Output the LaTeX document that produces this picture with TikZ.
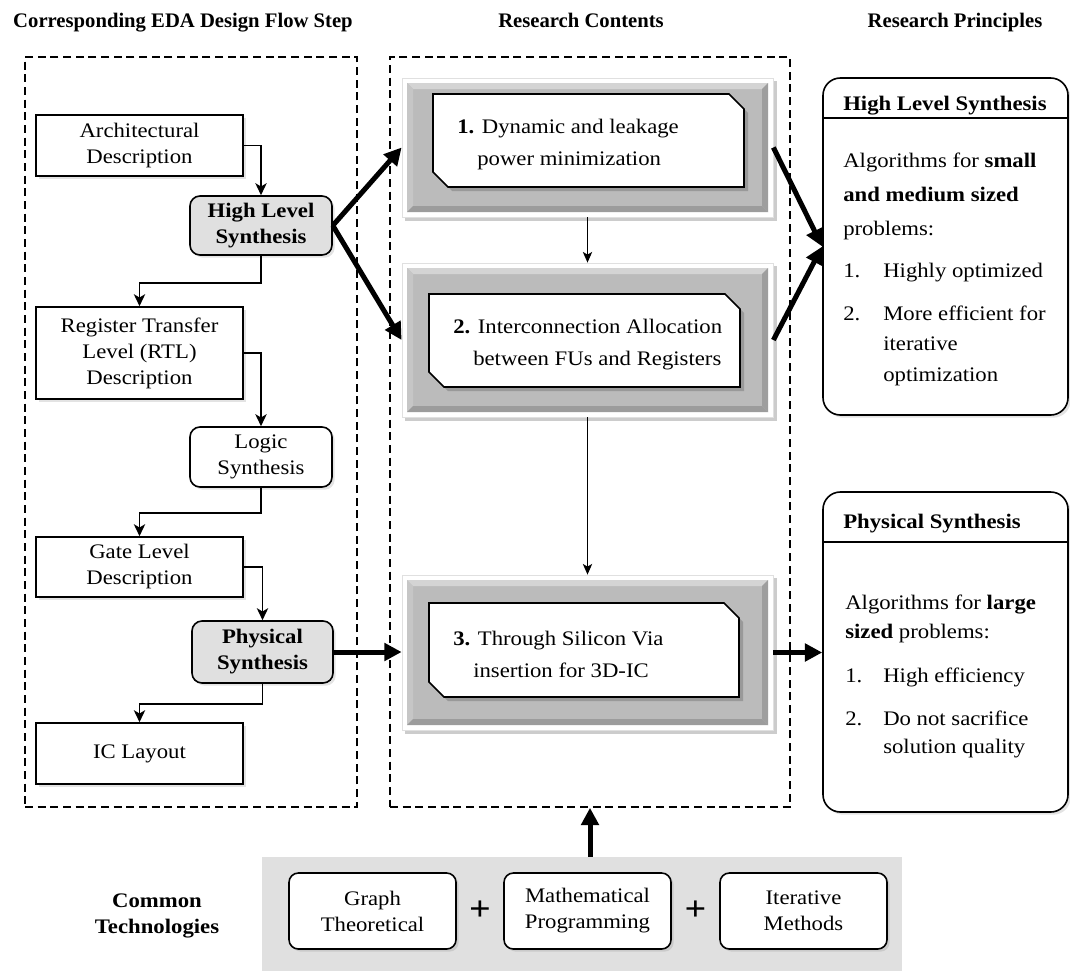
\documentclass[tikz,border=0pt]{standalone}
\usepackage{fontspec}
\setmainfont{Liberation Serif}[FakeStretch=1.1]
\newfontfamily\headfont{Liberation Serif}[FakeStretch=1.0]
\usetikzlibrary{arrows.meta,fit,shadows,calc}

\definecolor{panelgray}{HTML}{BBBBBB}
\definecolor{bevellight}{HTML}{D4D4D4}
\definecolor{bevelside}{HTML}{C6C6C6}
\definecolor{beveldark}{HTML}{9C9C9C}
\definecolor{stepgray}{HTML}{E0E0E0}

% a box node spanning the corners (#3,#4) and (#5,#6), centred text #7
\newcommand\boxnode[7]{%
  \node[#1, minimum width={(#5-#3)*0.75pt}, minimum height={(#6-#4)*0.75pt}]
    (#2) at ({(#3+#5)/2},{(#4+#6)/2}) {#7};}

% one research-content panel: white rim, bevelled grey plate, snipped white card
% #1 name, #2/#3 rim top/bottom, #4..#7 card left/top/right/bottom, #8 text
\newcommand\contentbox[8]{%
  \fill[black!20] (405,#2+3) rectangle (777,#3+4);
  \boxnode{fill=white, draw=black!12, line width=0.6pt}{#1}{402}{#2}{773}{#3}{}
  \fill[panelgray] (407,#2+5) rectangle (768,#3-5);
  \fill[bevellight] (407,#2+5) -- (768,#2+5) -- (762,#2+11) -- (413,#2+11) -- cycle;
  \fill[bevelside] (407,#2+5) -- (413,#2+11) -- (413,#3-11) -- (407,#3-5) -- cycle;
  \fill[beveldark] (407,#3-5) -- (413,#3-11) -- (762,#3-11) -- (768,#3-5) -- cycle;
  \fill[bevelside!80!black] (768,#2+5) -- (762,#2+11) -- (762,#3-11) -- (768,#3-5) -- cycle;
  \fill[black!40] (#4+4,#5+4) -- (#6-11,#5+4) -- (#6+4,#5+19) -- (#6+4,#7+4) -- (#4+19,#7+4) -- (#4+4,#7-11) -- cycle;
  \draw[fill=white, line width=1.2pt, line join=miter] (#4,#5) -- (#6-15,#5) -- (#6,#5+15) -- (#6,#7) -- (#4+15,#7) -- (#4,#7-15) -- cycle;
  \node[anchor=west, align=left, font=\fontsize{15.5pt}{24pt}\selectfont] (#1text) at (#4+24,{(#5+#7)/2+4}) {#8};
}

% one line of text in the principle boxes
\newcommand\pline[4]{\node[anchor=base west] (#1) at (#2,#3) {#4};}

\begin{document}
\begin{tikzpicture}[x=0.75pt,y=-0.75pt,
  font=\fontsize{15.5pt}{19.5pt}\selectfont,
  every node/.style={inner sep=0pt},
  flowbox/.style={draw, line width=1.2pt, fill=white, align=center,
    drop shadow={shadow xshift=2pt, shadow yshift=-2pt, opacity=0.22}},
  stepbox/.style={flowbox, rounded corners=7.5pt, fill=stepgray, font=\fontsize{15.5pt}{19.5pt}\selectfont\bfseries},
  roundbox/.style={flowbox, rounded corners=7.5pt},
  techbox/.style={flowbox, rounded corners=7pt},
  principle/.style={draw, line width=1.2pt, fill=white, rounded corners=13pt,
    drop shadow={shadow xshift=2pt, shadow yshift=-2pt, opacity=0.22}},
  frame/.style={draw, line width=1.2pt, dash pattern=on 6pt off 3.5pt},
  flow/.style={line width=1.2pt, -{Stealth[length=9pt,width=8.5pt,inset=2.5pt]}},
  thin/.style={line width=0.9pt, -{Stealth[length=8pt,width=7pt,inset=2pt]}},
  bigarrow/.style={line width=3.75pt, -{Triangle[length=13pt,width=13pt]}},
  hdr/.style={font=\headfont\fontsize{15.5pt}{18pt}\selectfont\bfseries, anchor=base}
]
\useasboundingbox (0,0) rectangle (1070,971);

% column headings
\node[hdr] (h1) at (183,27) {Corresponding EDA Design Flow Step};
\node[hdr] (h2) at (581,27) {Research Contents};
\node[hdr] (h3) at (955,27) {Research Principles};

% dashed column frames
\boxnode{frame}{left}{25}{57}{357}{807}{}
\boxnode{frame}{mid}{390}{57}{790}{807}{}

% EDA design flow
\boxnode{flowbox}{arch}{36}{115}{243}{176}{Architectural\\Description}
\boxnode{stepbox}{hls}{190}{196}{332}{255}{High Level\\Synthesis}
\boxnode{flowbox}{rtl}{36}{307}{243}{399}{Register Transfer\\Level (RTL)\\Description}
\boxnode{roundbox}{logic}{190}{427}{332}{487}{Logic\\Synthesis}
\boxnode{flowbox}{gate}{36}{537}{243}{597}{Gate Level\\Description}
\boxnode{stepbox}{phys}{192}{621}{333}{683}{Physical\\Synthesis}
\boxnode{flowbox}{ic}{36}{723}{243}{784}{IC Layout}

\draw[flow] (arch.east) -| (hls.north);
\draw[flow] (hls.south) -- ++(0,27) -| (rtl.north);
\draw[flow] (rtl.east) -| (logic.north);
\draw[flow] (logic.south) -- ++(0,25) -| (gate.north);
\draw[flow] (gate.east) -| (phys.north);
\draw[flow] (phys.south) -- ++(0,20) -| (ic.north);

% research contents
\contentbox{c1}{78}{217}{433}{94}{744}{187}{\textbf{1.} Dynamic and leakage\\\hspace*{15pt}power minimization}
\contentbox{c2}{263}{417}{429}{294}{740}{387}{\textbf{2.} Interconnection Allocation\\\hspace*{15pt}between FUs and Registers}
\contentbox{c3}{575}{730}{429}{603}{739}{697}{\textbf{3.} Through Silicon Via\\\hspace*{15pt}insertion for 3D-IC}

\draw[thin] (c1.south) -- (c2.north);
\draw[thin] (c2.south) -- (c3.north);

% research principles
\boxnode{principle}{pA}{823}{78}{1068}{415}{}
\draw[line width=1.2pt] (823,118) -- (1068,118);
\pline{pAh}{843}{110}{\textbf{High Level Synthesis}}
\pline{pA1}{843}{167}{Algorithms for \textbf{small}}
\pline{pA2}{843}{201}{\textbf{and medium sized}}
\pline{pA3}{843}{235}{problems:}
\pline{pA4n}{843}{277}{1.}
\pline{pA4}{883}{277}{Highly optimized}
\pline{pA5n}{843}{320}{2.}
\pline{pA5}{883}{320}{More efficient for}
\pline{pA6}{883}{350}{iterative}
\pline{pA7}{883}{381}{optimization}

\boxnode{principle}{pB}{823}{492}{1068}{812}{}
\draw[line width=1.2pt] (823,542) -- (1068,542);
\pline{pBh}{843}{528}{\textbf{Physical Synthesis}}
\pline{pB1}{845}{609}{Algorithms for \textbf{large}}
\pline{pB2}{845}{638}{\textbf{sized} problems:}
\pline{pB3n}{845}{682}{1.}
\pline{pB3}{883}{682}{High efficiency}
\pline{pB4n}{845}{725}{2.}
\pline{pB4}{883}{725}{Do not sacrifice}
\pline{pB5}{883}{753}{solution quality}

% thick links between the columns
\draw[bigarrow] (hls.east) -- (c1.west);
\draw[bigarrow] (hls.east) -- (c2.west);
\draw[bigarrow] (phys.east) -- (phys.east -| c3.west);
\draw[bigarrow] (c1.east) -- (pA.west);
\draw[bigarrow] (c2.east) -- (pA.west);
\draw[bigarrow] (c3.east) -- (c3.east -| pB.west);

% common technologies
\boxnode{fill=stepgray}{base}{262}{857}{902}{971}{}
\node[align=center, font=\fontsize{15.5pt}{19.5pt}\selectfont\bfseries] (ct) at (157,916) {Common\\Technologies};
\boxnode{techbox}{t1}{289}{873}{456}{949}{Graph\\Theoretical}
\boxnode{techbox}{t2}{504}{873}{671}{949}{Mathematical\\Programming}
\boxnode{techbox}{t3}{720}{873}{887}{949}{Iterative\\Methods}
\node[font=\fontsize{26pt}{26pt}\selectfont\bfseries] (p1) at ($(t1.east)!0.5!(t2.west)$) {+};
\node[font=\fontsize{26pt}{26pt}\selectfont\bfseries] (p2) at ($(t2.east)!0.5!(t3.west)$) {+};
\draw[bigarrow] (mid.south |- base.north) -- (mid.south);
\end{tikzpicture}
\end{document}
